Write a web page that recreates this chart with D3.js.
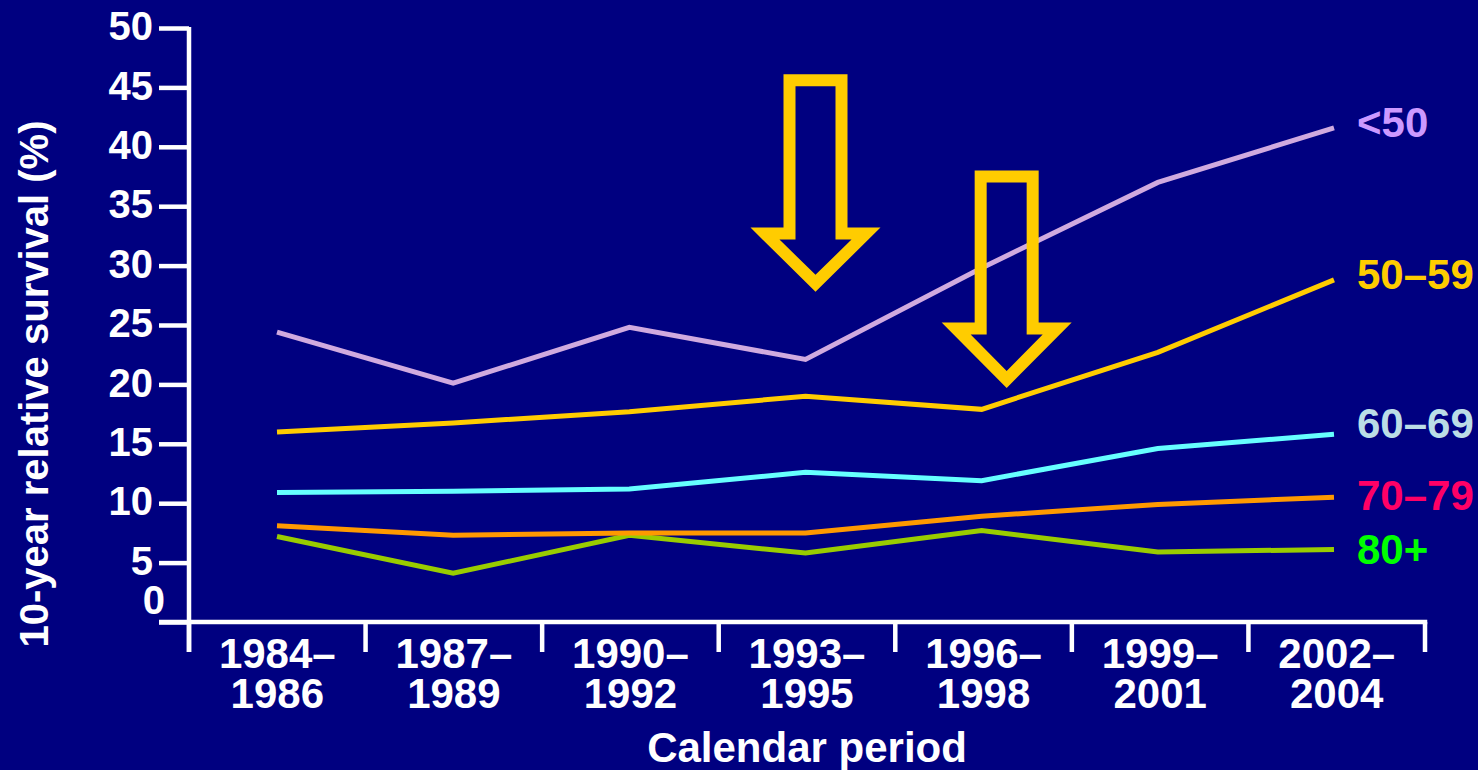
<!DOCTYPE html>
<html>
<head>
<meta charset="utf-8">
<script src="https://cdn.jsdelivr.net/npm/d3@7"></script>
<style>
  html, body { margin: 0; padding: 0; background: #000080; }
  svg { display: block; }
  text { font-family: "Liberation Sans", Arial, sans-serif; font-weight: bold; }
</style>
</head>
<body>
<svg id="chart" width="1478" height="770"></svg>
<script>
// Calendar periods (x categories)
const periods = ["1984–1986", "1987–1989", "1990–1992", "1993–1995", "1996–1998", "1999–2001", "2002–2004"];

// Age groups and their 10-year relative survival (%) per period
const ageGroups = ["<50", "50–59", "60–69", "70–79", "80+"];
const under50   = [24.4, 20.1, 24.8, 22.1, 29.8, 37.0, 41.6];
const age50to59 = [16.0, 16.75, 17.7, 19.0, 17.9, 22.7, 28.8];
const age60to69 = [10.9, 11.0, 11.2, 12.6, 11.9, 14.6, 15.8];
const age70to79 = [8.1, 7.3, 7.5, 7.5, 8.9, 9.9, 10.5];
const age80plus = [7.2, 4.1, 7.3, 5.8, 7.7, 5.9, 6.1];

// Y axis tick values
const yTicks = [0, 5, 10, 15, 20, 25, 30, 35, 40, 45, 50];

// Periods marked with arrows
const markedPeriods = ["1993–1995", "1996–1998"];

const lineColors  = ["#D0AADF", "#FFCC00", "#66FFFF", "#FF9900", "#99CC00"];
const labelColors = ["#CC99FF", "#FFCC00", "#BBDDE6", "#FF0066", "#00FF00"];

const svg = d3.select("#chart");
const W = 1478, H = 770;
svg.append("rect").attr("width", W).attr("height", H).attr("fill", "#000080");

const plotLeft = 189, plotRight = 1425, plotTop = 28, plotBottom = 622;
const axisStroke = 4.5;

const y = d3.scaleLinear().domain([0, 50]).range([plotBottom, plotTop]);
const xBand = d3.scaleBand().domain(periods).range([plotLeft, plotRight]).padding(0);
const xPt = d3.scalePoint().domain(periods).range([277, 1334]);

const series = [under50, age50to59, age60to69, age70to79, age80plus].map((vals, i) => ({
  name: ageGroups[i], values: vals, line: lineColors[i], label: labelColors[i]
}));

// ----- Y axis -----
const yAxis = d3.axisLeft(y).tickValues(yTicks).tickSize(30).tickPadding(6).tickFormat(d3.format("d"));
const gy = svg.append("g").attr("transform", `translate(${plotLeft},0)`).call(yAxis);
gy.select(".domain").remove();
gy.selectAll(".tick line").attr("stroke", "#fff").attr("stroke-width", axisStroke);
gy.selectAll(".tick text")
  .attr("fill", "#fff").attr("font-size", 40)
  .attr("font-family", "'Liberation Sans', Arial, sans-serif").attr("font-weight", "bold")
  .attr("dy", "0.29em");
// the zero label sits just above the baseline
gy.selectAll(".tick").filter(d => d === 0).select("text").attr("x", -24).attr("dy", "-0.22em");

// axis lines: vertical runs past the baseline, horizontal starts at the tick edge
svg.append("line").attr("x1", plotLeft).attr("x2", plotLeft).attr("y1", plotTop - 1).attr("y2", plotBottom + 30)
  .attr("stroke", "#fff").attr("stroke-width", axisStroke);
svg.append("line").attr("x1", plotLeft - 30).attr("x2", plotRight + axisStroke / 2).attr("y1", plotBottom).attr("y2", plotBottom)
  .attr("stroke", "#fff").attr("stroke-width", axisStroke);

// ----- X axis: ticks on the period boundaries -----
const boundaries = periods.map(p => xBand(p)).concat([xBand.range()[1]]);
svg.append("g").selectAll("line").data(boundaries).join("line")
  .attr("x1", d => d).attr("x2", d => d)
  .attr("y1", plotBottom).attr("y2", plotBottom + 30)
  .attr("stroke", "#fff").attr("stroke-width", axisStroke);

const xLabels = svg.append("g").selectAll("text").data(periods).join("text")
  .attr("text-anchor", "middle").attr("fill", "#fff").attr("font-size", 42)
  .attr("transform", d => `translate(${xBand(d) + xBand.bandwidth() / 2},0)`);
xLabels.append("tspan").attr("x", 0).attr("y", 668).text(d => d.split("–")[0] + "–");
xLabels.append("tspan").attr("x", 0).attr("y", 708).text(d => d.split("–")[1]);

// axis titles
svg.append("text").attr("x", (plotLeft + plotRight) / 2).attr("y", 762)
  .attr("text-anchor", "middle").attr("fill", "#fff").attr("font-size", 42)
  .text("Calendar period");
svg.append("text").attr("transform", "translate(48,384) rotate(-90)")
  .attr("text-anchor", "middle").attr("fill", "#fff").attr("font-size", 40)
  .text("10-year relative survival (%)");

// ----- Lines (drawn oldest-group first so younger groups sit on top) -----
const line = d3.line().x((d, i) => xPt(periods[i])).y(d => y(d));
svg.append("g").selectAll("path").data(series.slice().reverse()).join("path")
  .attr("d", d => line(d.values))
  .attr("fill", "none").attr("stroke", d => d.line)
  .attr("stroke-width", 5).attr("stroke-linejoin", "miter").attr("stroke-linecap", "butt");

// series labels to the right of the last point
const labelNudge = { "<50": 9, "50–59": 9, "60–69": 4, "70–79": 13, "80+": 14 };
svg.append("g").selectAll("text").data(series).join("text")
  .attr("x", 1357)
  .attr("y", d => y(d.values[d.values.length - 1]) + labelNudge[d.name])
  .attr("fill", d => d.label).attr("font-size", 42)
  .text(d => d.name);

// ----- Hollow arrows pointing at the marked periods -----
function arrowPath(cx, yTop, yHead, yTip, shaftHalf, wingHalf, t) {
  const outer = [[cx - shaftHalf, yTop], [cx + shaftHalf, yTop], [cx + shaftHalf, yHead], [cx + wingHalf, yHead],
                 [cx, yTip], [cx - wingHalf, yHead], [cx - shaftHalf, yHead]];
  const d = t * Math.SQRT2;
  const iw = wingHalf - d - t;
  const inner = [[cx - shaftHalf + t, yTop + t], [cx + shaftHalf - t, yTop + t], [cx + shaftHalf - t, yHead + t],
                 [cx + iw, yHead + t], [cx, yTip - d], [cx - iw, yHead + t], [cx - shaftHalf + t, yHead + t]];
  const toD = pts => "M" + pts.map(p => p.join(",")).join("L") + "Z";
  return toD(outer) + toD(inner);
}
const arrows = [
  { period: markedPeriods[0], dx: 10, top: 46.1, head: 33.2, tip: 27.8 },
  { period: markedPeriods[1], dx: 25, top: 38.0, head: 25.2, tip: 19.7 }
];
svg.append("g").selectAll("path").data(arrows).join("path")
  .attr("d", a => arrowPath(xPt(a.period) + a.dx, y(a.top), y(a.head), y(a.tip), 32, 65, 12))
  .attr("fill", "#FFCC00").attr("fill-rule", "evenodd");
</script>
</body>
</html>
